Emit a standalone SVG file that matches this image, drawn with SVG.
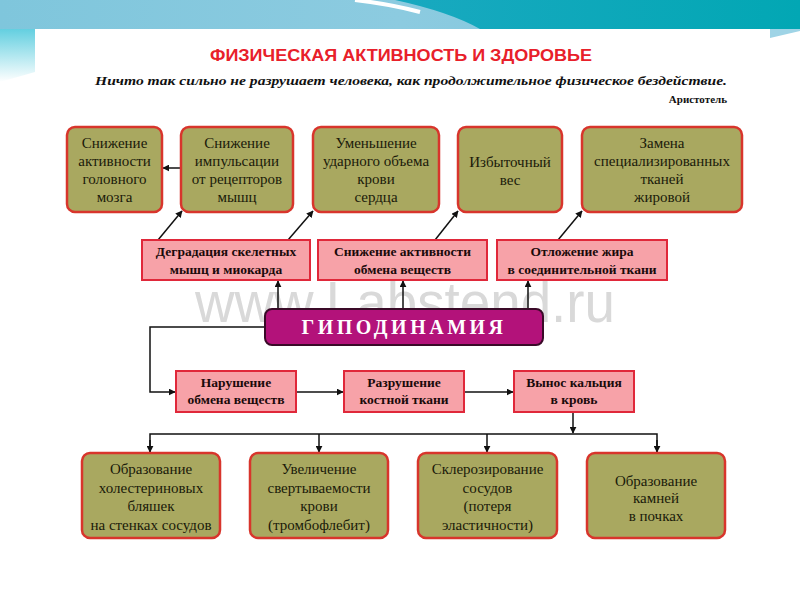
<svg xmlns="http://www.w3.org/2000/svg" width="800" height="600" viewBox="0 0 800 600">
<defs>
<linearGradient id="band" x1="0" y1="0" x2="1" y2="0">
<stop offset="0" stop-color="#7fc6dc"/>
<stop offset="0.5" stop-color="#8ccbe0"/>
<stop offset="1" stop-color="#7cc4dc"/>
</linearGradient>
<linearGradient id="teal" x1="0" y1="0" x2="1" y2="0">
<stop offset="0" stop-color="#19a9c0"/>
<stop offset="1" stop-color="#02a7b4"/>
</linearGradient>
<linearGradient id="leftfade" x1="0" y1="0" x2="0" y2="1">
<stop offset="0" stop-color="#63cfe0"/>
<stop offset="1" stop-color="#ffffff"/>
</linearGradient>
<marker id="ah" viewBox="0 0 10 10" refX="9" refY="5" markerWidth="7" markerHeight="7" orient="auto" markerUnits="userSpaceOnUse">
<path d="M0,0 L10,5 L0,10 Z" fill="#111"/>
</marker>
</defs>
<style>
.olive{fill:#a9a860;stroke:#d8352c;stroke-width:2.5}
.pink{fill:#f7a2a8;stroke:#e0283a;stroke-width:2}
.ot{font-family:"Liberation Serif","DejaVu Serif",serif;font-size:15px;fill:#1a1a0a;text-anchor:middle}
.pt{font-family:"Liberation Serif","DejaVu Serif",serif;font-size:13.5px;font-weight:bold;fill:#1a0a0a;text-anchor:middle}
.ln{fill:none;stroke:#111;stroke-width:1.5}
</style>
<rect x="0" y="0" width="800" height="600" fill="#ffffff"/>
<g id="background">
<rect x="0" y="0" width="800" height="29" fill="url(#band)"/>
<path d="M395,0 L800,0 L800,29 L480,29 Q450,12 395,0 Z" fill="url(#teal)"/>
<path d="M355,0 Q390,4 420,12" fill="none" stroke="#ffffff" stroke-width="4"/>
<path d="M0,29 L35,29 L35,72 L0,82 Z" fill="url(#leftfade)"/>
<path d="M770,29 L800,29 L800,31 L770,38 Z" fill="#9fd4e6"/>
<text x="405" y="322" font-family="Liberation Sans, Arial, sans-serif" font-size="58" fill="#d9d9d9" text-anchor="middle" textLength="420" lengthAdjust="spacingAndGlyphs">www.Labstend.ru</text>
</g>
<g id="title">
<text x="401" y="61" font-family="Liberation Sans, Arial, sans-serif" font-size="16" font-weight="bold" fill="#e8202a" text-anchor="middle" textLength="382" lengthAdjust="spacingAndGlyphs">ФИЗИЧЕСКАЯ  АКТИВНОСТЬ  И  ЗДОРОВЬЕ</text>
<text x="411" y="85" font-family="Liberation Serif, Times New Roman, serif" font-size="12.5" font-weight="bold" font-style="italic" fill="#111" text-anchor="middle" textLength="632" lengthAdjust="spacingAndGlyphs">Ничто так сильно не разрушает человека, как продолжительное физическое бездействие.</text>
<text x="727" y="103" font-family="Liberation Serif, Times New Roman, serif" font-size="11" font-weight="bold" fill="#111" text-anchor="end">Аристотель</text>
</g>
<g id="connectors">
<line class="ln" x1="182" y1="168" x2="163" y2="168" marker-end="url(#ah)"/>
<line class="ln" x1="158" y1="240" x2="182" y2="211" marker-end="url(#ah)"/>
<line class="ln" x1="288" y1="240" x2="313" y2="211" marker-end="url(#ah)"/>
<line class="ln" x1="435" y1="240" x2="458" y2="211" marker-end="url(#ah)"/>
<line class="ln" x1="558" y1="240" x2="582" y2="211" marker-end="url(#ah)"/>
<line class="ln" x1="278" y1="310" x2="278" y2="281" marker-end="url(#ah)"/>
<line class="ln" x1="403" y1="310" x2="403" y2="281" marker-end="url(#ah)"/>
<line class="ln" x1="528" y1="310" x2="528" y2="281" marker-end="url(#ah)"/>
<polyline class="ln" points="265,327 150,327 150,392 175,392" marker-end="url(#ah)"/>
<line class="ln" x1="296" y1="392" x2="343" y2="392" marker-end="url(#ah)"/>
<line class="ln" x1="464" y1="392" x2="513" y2="392" marker-end="url(#ah)"/>
<line class="ln" x1="573" y1="412" x2="573" y2="433" marker-end="url(#ah)"/>
<polyline class="ln" points="150,452 150,434 657,434 657,452"/>
<line class="ln" x1="150" y1="440" x2="150" y2="452" marker-end="url(#ah)"/>
<line class="ln" x1="319" y1="434" x2="319" y2="452" marker-end="url(#ah)"/>
<line class="ln" x1="487" y1="434" x2="487" y2="452" marker-end="url(#ah)"/>
<line class="ln" x1="657" y1="440" x2="657" y2="452" marker-end="url(#ah)"/>
</g>
<g id="n-brain">
<rect class="olive" x="67" y="127" width="95" height="85" rx="8"/>
<text class="ot" x="114.5" y="148">Снижение</text>
<text class="ot" x="114.5" y="166">активности</text>
<text class="ot" x="114.5" y="184">головного</text>
<text class="ot" x="114.5" y="202">мозга</text>
</g>
<g id="n-impulse">
<rect class="olive" x="181" y="127" width="112" height="85" rx="8"/>
<text class="ot" x="237" y="148">Снижение</text>
<text class="ot" x="237" y="166">импульсации</text>
<text class="ot" x="237" y="184">от рецепторов</text>
<text class="ot" x="237" y="202">мышц</text>
</g>
<g id="n-stroke">
<rect class="olive" x="313" y="127" width="126" height="85" rx="8"/>
<text class="ot" x="376" y="148">Уменьшение</text>
<text class="ot" x="376" y="166">ударного объема</text>
<text class="ot" x="376" y="184">крови</text>
<text class="ot" x="376" y="202">сердца</text>
</g>
<g id="n-weight">
<rect class="olive" x="458" y="127" width="104" height="85" rx="8"/>
<text class="ot" x="510" y="167">Избыточный</text>
<text class="ot" x="510" y="185">вес</text>
</g>
<g id="n-fat">
<rect class="olive" x="582" y="127" width="160" height="85" rx="8"/>
<text class="ot" x="662" y="148">Замена</text>
<text class="ot" x="662" y="166">специализированных</text>
<text class="ot" x="662" y="184">тканей</text>
<text class="ot" x="662" y="202">жировой</text>
</g>
<g id="n-degrad">
<rect class="pink" x="142" y="240" width="168" height="40"/>
<text class="pt" x="226" y="256">Деградация скелетных</text>
<text class="pt" x="226" y="274">мышц и миокарда</text>
</g>
<g id="n-metab">
<rect class="pink" x="318" y="240" width="169" height="40"/>
<text class="pt" x="402.5" y="256">Снижение активности</text>
<text class="pt" x="402.5" y="274">обмена веществ</text>
</g>
<g id="n-deposit">
<rect class="pink" x="497" y="240" width="170" height="40"/>
<text class="pt" x="582" y="256">Отложение жира</text>
<text class="pt" x="582" y="274">в соединительной ткани</text>
</g>
<g id="n-hypo">
<rect x="265" y="309" width="278" height="36" rx="7" fill="#b3127a" stroke="#3a0a28" stroke-width="2"/>
<text x="404" y="334" font-family="Liberation Serif, Times New Roman, serif" font-size="20" font-weight="bold" fill="#ffffff" text-anchor="middle" letter-spacing="3.5">ГИПОДИНАМИЯ</text>
</g>
<g id="n-disorder">
<rect class="pink" x="176" y="371" width="120" height="41"/>
<text class="pt" x="236" y="387">Нарушение</text>
<text class="pt" x="236" y="404">обмена веществ</text>
</g>
<g id="n-bone">
<rect class="pink" x="344" y="371" width="120" height="41"/>
<text class="pt" x="404" y="387">Разрушение</text>
<text class="pt" x="404" y="404">костной ткани</text>
</g>
<g id="n-calcium">
<rect class="pink" x="514" y="371" width="120" height="41"/>
<text class="pt" x="574" y="387">Вынос кальция</text>
<text class="pt" x="574" y="404">в кровь</text>
</g>
<g id="n-chol">
<rect class="olive" x="82" y="453" width="138" height="85" rx="8"/>
<text class="ot" x="151" y="474">Образование</text>
<text class="ot" x="151" y="493">холестериновых</text>
<text class="ot" x="151" y="511">бляшек</text>
<text class="ot" x="151" y="530">на стенках сосудов</text>
</g>
<g id="n-clot">
<rect class="olive" x="250" y="453" width="138" height="85" rx="8"/>
<text class="ot" x="319" y="474">Увеличение</text>
<text class="ot" x="319" y="493">свертываемости</text>
<text class="ot" x="319" y="511">крови</text>
<text class="ot" x="319" y="530">(тромбофлебит)</text>
</g>
<g id="n-sclero">
<rect class="olive" x="418" y="453" width="139" height="85" rx="8"/>
<text class="ot" x="487.5" y="474">Склерозирование</text>
<text class="ot" x="487.5" y="493">сосудов</text>
<text class="ot" x="487.5" y="511">(потеря</text>
<text class="ot" x="487.5" y="530">эластичности)</text>
</g>
<g id="n-stones">
<rect class="olive" x="587" y="453" width="138" height="85" rx="8"/>
<text class="ot" x="656" y="486">Образование</text>
<text class="ot" x="656" y="503">камней</text>
<text class="ot" x="656" y="521">в почках</text>
</g>
</svg>
